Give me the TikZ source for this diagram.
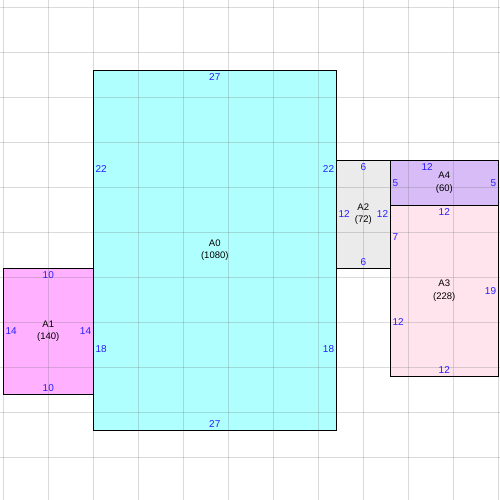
\documentclass[tikz,border=0pt]{standalone}
\usepackage{fontspec}
\setmainfont{Liberation Sans}
\definecolor{dimblue}{RGB}{40,30,255}
\definecolor{cA0}{RGB}{176,255,255}
\definecolor{cA1}{RGB}{255,176,255}
\definecolor{cA2}{RGB}{235,235,235}
\definecolor{cA3}{RGB}{255,228,238}
\definecolor{cA4}{RGB}{216,188,248}
\begin{document}
\begin{tikzpicture}[x=9pt,y=-9pt,
  room/.style={draw=black,line width=1.1pt},
  gridline/.style={draw=black!58,draw opacity=0.25,line width=1.4pt},
  dim/.style={text=dimblue,font=\fontsize{10}{11}\selectfont,inner sep=0pt},
  rname/.style={text=black,font=\fontsize{9.5}{12.5}\selectfont,align=center,inner sep=0pt},
  dtop/.style={dim,anchor=north,yshift=-3pt},
  dbot/.style={dim,anchor=south,yshift=3pt},
  dleft/.style={dim,anchor=west,xshift=2pt},
  dright/.style={dim,anchor=east,xshift=-2pt}]
\useasboundingbox (-0.3667,-0.8111) rectangle (55.1889,54.7444);
% fills
\fill[cA0] (10,7) rectangle (37,47);
\fill[cA1] (0,29) rectangle (10,43);
\fill[cA2] (37,17) rectangle (43,29);
\fill[cA4] (43,17) rectangle (55,22);
\fill[cA3] (43,22) rectangle (55,41);
% grid
\foreach \i in {0,5,...,55} \draw[gridline] (\i,-0.9) -- (\i,54.8);
\foreach \j in {0,5,...,50} \draw[gridline] (-0.4,\j) -- (55.2,\j);
% borders
\draw[room] (10,7) rectangle (37,47);
\draw[room] (0,29) rectangle (10,43);
\draw[room] (37,17) rectangle (43,29);
\draw[room] (43,17) rectangle (55,22);
\draw[room] (43,22) rectangle (55,41);
% names
\node[rname] (nA0) at (23.5,27) {A0\\(1080)};
\node[rname] (nA1) at (5,36) {A1\\(140)};
\node[rname] (nA2) at (40,23) {A2\\(72)};
\node[rname] (nA4) at (49,19.5) {A4\\(60)};
\node[rname] (nA3) at (49,31.5) {A3\\(228)};
% A0 dims
\node[dtop] (a0t) at (23.5,7) {27};
\node[dbot] (a0b) at (23.5,47) {27};
\node[dleft] (a0l1) at (10,18) {22};
\node[dleft] (a0l2) at (10,38) {18};
\node[dright] (a0r1) at (37,18) {22};
\node[dright] (a0r2) at (37,38) {18};
% A1 dims
\node[dtop] (a1t) at (5,29) {10};
\node[dbot] (a1b) at (5,43) {10};
\node[dleft] (a1l) at (0,36) {14};
\node[dright] (a1r) at (10,36) {14};
% A2 dims
\node[dtop] (a2t) at (40,17) {6};
\node[dbot] (a2b) at (40,29) {6};
\node[dleft] (a2l) at (37,23) {12};
\node[dright] (a2r) at (43,23) {12};
% A4 dims
\node[dtop] (a4t) at (47.1,17) {12};
\node[dleft] (a4l) at (43,19.5) {5};
\node[dright] (a4r) at (55,19.5) {5};
% A3 dims
\node[dtop] (a3t) at (49,22) {12};
\node[dleft] (a3l1) at (43,25.5) {7};
\node[dleft] (a3l2) at (43,35) {12};
\node[dright] (a3r) at (55,31.5) {19};
\node[dbot] (a3b) at (49,41) {12};
\end{tikzpicture}
\end{document}
